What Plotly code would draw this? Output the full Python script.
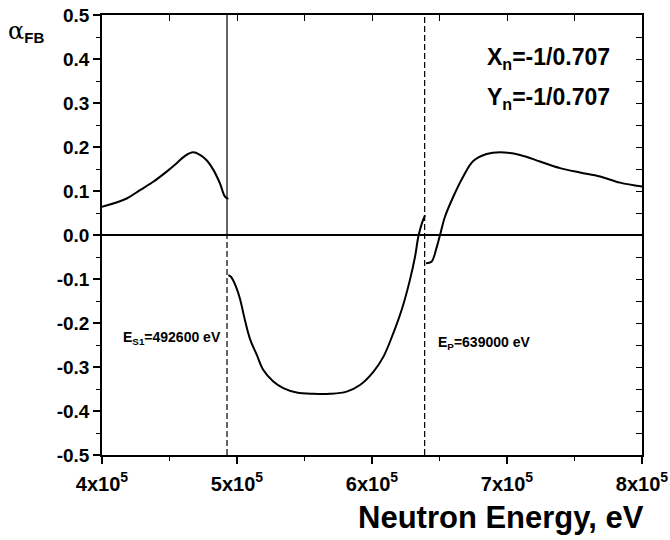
import plotly.graph_objects as go

# ---- data ----
E1 = [400000, 418300, 428100, 438000, 447900, 455300, 461500, 467600, 472600, 477500, 482500, 487400, 491100, 493600]
A1 = [0.064, 0.083, 0.102, 0.121, 0.144, 0.163, 0.180, 0.188, 0.182, 0.170, 0.148, 0.117, 0.087, 0.082]

E2 = [493600, 495500, 497300, 499800, 502200, 506000, 509600, 514600, 519500, 526900, 534300, 544200, 556500, 568900, 581200,
      591100, 601000, 608400, 615800, 622000, 628100, 631900, 634300, 637000, 639300]
A2 = [-0.091, -0.095, -0.104, -0.122, -0.145, -0.195, -0.236, -0.272, -0.307, -0.333, -0.348, -0.358, -0.361, -0.361, -0.356,
      -0.341, -0.311, -0.277, -0.223, -0.170, -0.102, -0.049, -0.004, 0.027, 0.045]

E3 = [640000, 644000, 648000, 650400, 654100, 660200, 667600, 675000, 684900, 694800, 709600, 724400, 739300,
      754100, 768900, 783700, 800000]
A3 = [-0.064, -0.061, -0.027, 0.000, 0.042, 0.087, 0.133, 0.168, 0.184, 0.188, 0.182, 0.167, 0.152,
      0.142, 0.133, 0.119, 0.110]

E_S1 = 492600
E_P = 639000
x_range = [400000, 800000]
y_range = [-0.5, 0.5]
x_ticks = [400000, 500000, 600000, 700000, 800000]
x_ticktext = ["4x10<sup>5</sup>", "5x10<sup>5</sup>", "6x10<sup>5</sup>", "7x10<sup>5</sup>", "8x10<sup>5</sup>"]
y_ticks = [-0.5, -0.4, -0.3, -0.2, -0.1, 0.0, 0.1, 0.2, 0.3, 0.4, 0.5]
y_ticktext = ["-0.5", "-0.4", "-0.3", "-0.2", "-0.1", "0.0", "0.1", "0.2", "0.3", "0.4", "0.5"]

FONT = "Liberation Sans"
fig = go.Figure()

# vertical marker lines
fig.add_trace(go.Scatter(x=[E_S1, E_S1], y=[0, y_range[1]], mode="lines",
                         line=dict(color="black", width=1.2), showlegend=False, hoverinfo="skip"))
fig.add_trace(go.Scatter(x=[E_S1, E_S1], y=[y_range[0], 0], mode="lines",
                         line=dict(color="black", width=1.2, dash="6px,3px"), showlegend=False, hoverinfo="skip"))
fig.add_trace(go.Scatter(x=[E_P, E_P], y=y_range, mode="lines",
                         line=dict(color="black", width=1.2, dash="6px,3px"), showlegend=False, hoverinfo="skip"))

for ex, ay in [(E1, A1), (E2, A2), (E3, A3)]:
    fig.add_trace(go.Scatter(x=ex, y=ay, mode="lines", line=dict(color="black", width=2, shape="spline"),
                             showlegend=False))

# dummy trace for mirror axes
fig.add_trace(go.Scatter(x=[None], y=[None], xaxis="x2", yaxis="y2", showlegend=False))

fig.update_layout(
    width=670, height=540,
    margin=dict(l=102, r=28, t=15, b=85),
    paper_bgcolor="white", plot_bgcolor="white",
    xaxis=dict(range=x_range, tickvals=x_ticks, ticktext=["<b>%s</b>" % t for t in x_ticktext],
               ticks="outside", ticklen=7, automargin=False, ticklabelstandoff=3,
               tickwidth=1.5, tickcolor="black", showline=True, linecolor="black", linewidth=1.5,
               showgrid=False, zeroline=False, tickfont=dict(family=FONT, size=20, color="black"),
               minor=dict(dtick=50000, ticks="outside", ticklen=4, tickwidth=1.2, tickcolor="black")),
    yaxis=dict(range=y_range, tickvals=y_ticks, ticktext=["<b>%s</b>" % t for t in y_ticktext],
               ticks="outside", ticklen=7, automargin=False,
               tickwidth=1.5, tickcolor="black", showline=True, linecolor="black", linewidth=1.5,
               showgrid=False, zeroline=True, zerolinecolor="black", zerolinewidth=1.5,
               tickfont=dict(family=FONT, size=19, color="black"),
               minor=dict(dtick=0.05, ticks="outside", ticklen=4, tickwidth=1.2, tickcolor="black")),
    xaxis2=dict(range=x_range, overlaying="x", side="top", showticklabels=False, ticks="inside",
                ticklen=6, tickwidth=1.2, tickcolor="black", dtick=50000, tick0=400000,
                showline=True, linecolor="black", linewidth=1.5, showgrid=False, zeroline=False),
    yaxis2=dict(range=y_range, overlaying="y", side="right", showticklabels=False, ticks="inside",
                ticklen=6, tickwidth=1.2, tickcolor="black", dtick=0.05, tick0=0,
                showline=True, linecolor="black", linewidth=1.5, showgrid=False, zeroline=False),
)

fig.add_annotation(x=-0.178, y=1.0, xref="paper", yref="paper", xanchor="left", yanchor="top", showarrow=False,
                   text="<span style='font-family:DejaVu Serif;font-size:24px'>α</span>"
                        "<sub><b style='font-size:15px'>FB</b></sub>",
                   font=dict(family=FONT, size=20, color="black"))
fig.add_annotation(x=778000, y=0.402, xanchor="right", yanchor="middle", showarrow=False,
                   text="<b>X<sub>n</sub>=-1/0.707</b>", font=dict(family=FONT, size=23, color="black"))
fig.add_annotation(x=778000, y=0.311, xanchor="right", yanchor="middle", showarrow=False,
                   text="<b>Y<sub>n</sub>=-1/0.707</b>", font=dict(family=FONT, size=23, color="black"))
fig.add_annotation(x=414100, y=-0.234, xanchor="left", yanchor="middle", showarrow=False,
                   text="<b>E<sub>S1</sub>=492600 eV</b>", font=dict(family=FONT, size=14, color="black"))
fig.add_annotation(x=647400, y=-0.245, xanchor="left", yanchor="middle", showarrow=False,
                   text="<b>E<sub>P</sub>=639000 eV</b>", font=dict(family=FONT, size=14, color="black"))
fig.add_annotation(x=1.007, y=-0.143, xref="paper", yref="paper", xanchor="right", yanchor="middle",
                   showarrow=False, text="<b>Neutron Energy, eV</b>",
                   font=dict(family=FONT, size=31, color="black"))

fig.write_html("out.html")
